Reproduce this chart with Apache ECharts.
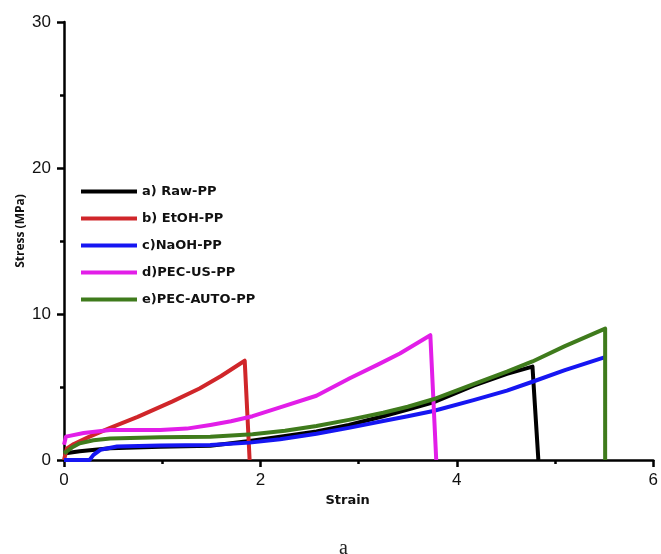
<!DOCTYPE html>
<html>
<head>
<meta charset="utf-8">
<script src="https://cdn.jsdelivr.net/npm/echarts@6/dist/echarts.min.js"></script>
<style>
  html, body { margin: 0; padding: 0; background: #fff; }
  #chart { width: 661px; height: 554px; }
</style>
</head>
<body>
<div id="chart"></div>
<script>
// legend names
const seriesNames = ["a) Raw-PP", "b) EtOH-PP", "c)NaOH-PP", "d)PEC-US-PP", "e)PEC-AUTO-PP"];
const seriesColors = ["#000000", "#d0262a", "#1616f2", "#e21ee8", "#3f7b1c"];

// [strain, stress (MPa)]
const rawPP = [[0, 0.45], [0.16, 0.6], [0.47, 0.8], [0.98, 0.9], [1.49, 0.98], [1.89, 1.3], [2.2, 1.6], [2.57, 1.95], [2.9, 2.4], [3.25, 3.0], [3.5, 3.45], [3.76, 3.95], [4.17, 5.1], [4.51, 5.9], [4.77, 6.4], [4.83, 0]];
const etohPP = [[0, 0], [0.03, 0.8], [0.1, 1.1], [0.26, 1.6], [0.47, 2.2], [0.75, 2.95], [1.1, 4.0], [1.38, 4.9], [1.6, 5.75], [1.84, 6.8], [1.89, 0]];
const naohPP = [[0, 0], [0.26, 0], [0.3, 0.35], [0.37, 0.7], [0.54, 0.93], [0.98, 1.0], [1.49, 1.03], [1.89, 1.19], [2.2, 1.42], [2.57, 1.8], [2.9, 2.2], [3.25, 2.67], [3.5, 3.0], [3.76, 3.36], [4.17, 4.1], [4.51, 4.75], [4.77, 5.36], [5.1, 6.15], [5.51, 7.05]];
const pecUsPP = [[0, 1.05], [0.02, 1.6], [0.2, 1.85], [0.47, 2.05], [0.98, 2.05], [1.25, 2.15], [1.49, 2.4], [1.7, 2.65], [1.92, 3.0], [2.2, 3.6], [2.57, 4.4], [2.91, 5.6], [3.2, 6.55], [3.42, 7.3], [3.73, 8.55], [3.79, 0]];
const pecAutoPP = [[0, 0.45], [0.08, 0.85], [0.16, 1.14], [0.3, 1.35], [0.47, 1.48], [0.98, 1.55], [1.49, 1.6], [1.92, 1.76], [2.25, 2.0], [2.57, 2.33], [2.9, 2.75], [3.25, 3.24], [3.5, 3.65], [3.76, 4.16], [4.17, 5.2], [4.51, 6.05], [4.77, 6.75], [5.1, 7.8], [5.51, 9.0], [5.51, 0]];
const seriesData = [rawPP, etohPP, naohPP, pecUsPP, pecAutoPP];

const xTicks = [0, 2, 4, 6];
const yTicks = [0, 10, 20, 30];

const axisBlack = { color: "#000", width: 2.5 };

const chart = echarts.init(document.getElementById("chart"));
chart.setOption({
  animation: false,
  backgroundColor: "#fff",
  grid: { left: 64, right: 7, top: 22, bottom: 94 },
  legend: {
    orient: "vertical",
    left: 76,
    top: 180,
    itemWidth: 56,
    itemHeight: 4,
    itemGap: 14,
    icon: "rect",
    data: seriesNames,
    textStyle: { fontFamily: "DejaVu Sans", fontWeight: "bold", fontSize: 13, color: "#111" },
  },
  xAxis: {
    type: "value",
    min: xTicks[0],
    max: xTicks[xTicks.length - 1],
    interval: 2,
    name: "Strain",
    nameLocation: "middle",
    nameGap: 34,
    nameTextStyle: { fontFamily: "DejaVu Sans", fontWeight: "bold", fontSize: 13, color: "#111", padding: [0, 22, 0, 0] },
    axisLine: { lineStyle: axisBlack },
    axisTick: { length: 7, lineStyle: axisBlack },
    minorTick: { show: true, splitNumber: 2, length: 4, lineStyle: axisBlack },
    axisLabel: { fontFamily: "Liberation Sans", fontSize: 17, color: "#111", margin: 12 },
    splitLine: { show: false },
  },
  yAxis: {
    type: "value",
    min: yTicks[0],
    max: yTicks[yTicks.length - 1],
    interval: 10,
    name: "Stress (MPa)",
    nameLocation: "middle",
    nameGap: 37,
    nameMoveOverlap: false,
    nameTextStyle: { fontFamily: "Open Sans", fontWeight: "bold", fontSize: 12, color: "#111", padding: [0, 0, 0, 20] },
    axisLine: { lineStyle: axisBlack },
    axisTick: { length: 7, lineStyle: axisBlack },
    minorTick: { show: true, splitNumber: 2, length: 4, lineStyle: axisBlack },
    axisLabel: { fontFamily: "Liberation Sans", fontSize: 17, color: "#111", margin: 13 },
    splitLine: { show: false },
  },
  series: seriesNames.map((name, i) => ({
    name: name,
    type: "line",
    data: seriesData[i],
    showSymbol: false,
    symbol: "none",
    smooth: false,
    color: seriesColors[i],
    lineStyle: { width: 4, color: seriesColors[i], join: "round" },
  })),
  graphic: [
    {
      type: "text",
      left: 339,
      top: 539,
      style: { text: "a", font: "20px 'Liberation Serif'", fill: "#222" },
    },
  ],
});
</script>
</body>
</html>
